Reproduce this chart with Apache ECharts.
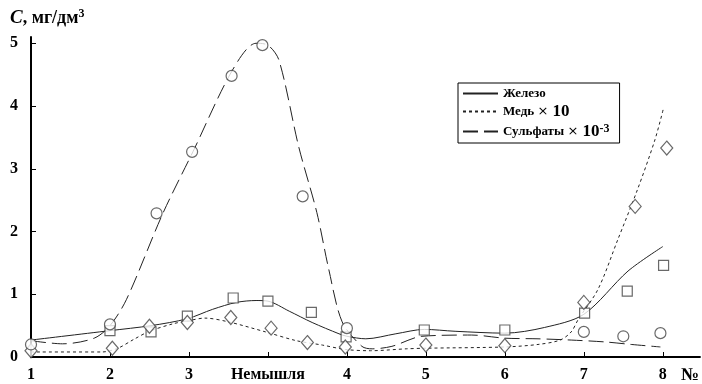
<!DOCTYPE html>
<html>
<head>
<meta charset="utf-8">
<script src="https://cdn.jsdelivr.net/npm/echarts@6/dist/echarts.min.js"></script>
<style>
  html, body { margin: 0; padding: 0; background: #fff; }
  #chart { width: 702px; height: 384px; }
</style>
</head>
<body>
<div id="chart"></div>
<script>
// точки по оси X: позиции 0..8
const xLabels = ['1', '2', '3', 'Немышля', '4', '5', '6', '7', '8'];
const yTicks = [0, 1, 2, 3, 4, 5];

// Железо — измеренные точки и сглаженная кривая
const ironPoints = [[1, 0.42], [1.52, 0.4], [1.98, 0.65], [2.56, 0.94], [3.0, 0.89], [3.55, 0.71],
  [3.99, 0.32], [4.98, 0.43], [6.0, 0.43], [7.01, 0.7], [7.55, 1.05], [8.01, 1.46]];
const ironCurve = [[0, 0.27], [1, 0.42], [1.52, 0.5], [1.98, 0.61], [2.3, 0.76], [2.6, 0.87],
  [2.85, 0.9], [3.0, 0.89], [3.27, 0.73], [3.56, 0.55], [3.9, 0.37], [4.0, 0.33], [4.24, 0.29],
  [4.62, 0.37], [4.98, 0.44], [5.37, 0.41], [6.0, 0.38], [6.5, 0.47], [7.0, 0.68], [7.56, 1.37], [8.0, 1.76]];

// Медь x10
const copperPoints = [[0, 0.1], [1.03, 0.14], [1.5, 0.49], [1.98, 0.55], [2.53, 0.63], [3.04, 0.46],
  [3.5, 0.23], [3.98, 0.16], [5.0, 0.19], [6.0, 0.18], [7.0, 0.87], [7.65, 2.4], [8.05, 3.33]];
const copperCurve = [[0, 0.08], [0.9, 0.08], [1.1, 0.14], [1.3, 0.28], [1.5, 0.41], [1.8, 0.53],
  [2.0, 0.58], [2.2, 0.62], [2.5, 0.56], [2.97, 0.4], [3.36, 0.26], [3.69, 0.19], [3.98, 0.12],
  [4.3, 0.1], [4.75, 0.13], [5.0, 0.14], [6.0, 0.16], [6.42, 0.2], [6.7, 0.27], [6.84, 0.4],
  [6.93, 0.6], [7.18, 1.08], [7.43, 1.87], [7.68, 2.67], [7.9, 3.46], [8.01, 3.97]];

// Сульфаты x10^-3
const sulfatePoints = [[0, 0.2], [1, 0.52], [1.59, 2.29], [2.04, 3.27], [2.54, 4.48], [2.93, 4.97],
  [3.44, 2.56], [4.0, 0.46], [7.0, 0.4], [7.5, 0.33], [7.97, 0.38]];
const sulfateCurve = [[0, 0.26], [0.4, 0.21], [0.8, 0.3], [1.0, 0.5], [1.21, 0.92], [1.67, 2.29],
  [2.05, 3.27], [2.55, 4.57], [2.85, 5.0], [3.0, 4.97], [3.14, 4.73], [3.39, 3.35], [3.62, 2.3],
  [3.77, 1.4], [3.94, 0.56], [4.19, 0.17], [4.32, 0.13], [4.57, 0.17], [4.95, 0.33], [5.58, 0.35],
  [6.0, 0.3], [6.42, 0.29], [6.84, 0.27], [7.27, 0.24], [7.6, 0.2], [7.97, 0.16]];

let myChart = echarts.init(document.getElementById('chart'));

const serif = 'Liberation Serif';
const markerStyle = { color: '#fff', borderColor: '#444', borderWidth: 1.2 };

let option = {
  animation: false,
  title: {
    left: 5,
    top: 3,
    text: '{i|C}{b|, мг/дм}{s|3}',
    textStyle: {
      rich: {
        i: { fontFamily: serif, fontSize: 19, fontWeight: 'bold', fontStyle: 'italic', color: '#000' },
        b: { fontFamily: serif, fontSize: 18, fontWeight: 'bold', color: '#000' },
        s: { fontFamily: serif, fontSize: 12, fontWeight: 'bold', color: '#000', verticalAlign: 'top', padding: [0, 0, 8, 0] }
      }
    }
  },
  legend: {
    orient: 'vertical',
    left: 458,
    top: 83,
    padding: [4, 10, 3, 4],
    itemGap: 3,
    itemWidth: 35,
    itemHeight: 12,
    borderColor: '#000',
    borderWidth: 1,
    borderRadius: 0,
    data: ['Железо', 'Медь', 'Сульфаты'],
    itemStyle: { color: 'transparent', borderWidth: 0, opacity: 0 },
    formatter: function (name) {
      if (name === 'Медь') return '{t|Медь} {x|×}{n| 10}';
      if (name === 'Сульфаты') return '{t|Сульфаты} {x|×}{n| 10}{s|-3}';
      return '{t|' + name + '}';
    },
    textStyle: {
      rich: {
        t: { fontFamily: serif, fontSize: 13, fontWeight: 'bold', color: '#000' },
        x: { fontFamily: 'DejaVu Sans', fontSize: 13, color: '#000' },
        n: { fontFamily: serif, fontSize: 17, fontWeight: 'bold', color: '#000' },
        s: { fontFamily: serif, fontSize: 12, fontWeight: 'bold', color: '#000', verticalAlign: 'top' }
      }
    }
  },
  grid: { left: 31, right: 0, top: 37, bottom: 26 },
  xAxis: {
    type: 'value',
    min: 0,
    max: 8.47,
    splitLine: { show: false },
    axisLine: { lineStyle: { color: '#000', width: 2 } },
    axisTick: { inside: true, length: 5, customValues: [0, 1, 2, 3, 4, 5, 6, 7, 8], lineStyle: { color: '#000' } },
    axisLabel: {
      customValues: [0, 1, 2, 3, 4, 5, 6, 7, 8],
      formatter: v => xLabels[Math.round(v)],
      margin: 10,
      fontFamily: serif,
      fontSize: 16,
      fontWeight: 'bold',
      color: '#000'
    },
    name: '№',
    nameLocation: 'end',
    nameGap: -19,
    nameTextStyle: { fontFamily: serif, fontSize: 18, fontWeight: 'bold', color: '#000', verticalAlign: 'top', padding: [9, 0, 0, 0] }
  },
  yAxis: {
    type: 'value',
    min: 0,
    max: 5.1,
    splitLine: { show: false },
    axisLine: { lineStyle: { color: '#000', width: 2 } },
    axisTick: { inside: true, length: 5, customValues: yTicks, lineStyle: { color: '#000' } },
    axisLabel: {
      customValues: yTicks,
      margin: 13,
      fontFamily: serif,
      fontSize: 16,
      fontWeight: 'bold',
      color: '#000'
    }
  },
  series: [
    {
      name: 'Железо', type: 'line', smooth: 0.3, symbol: 'none', data: ironCurve,
      lineStyle: { color: '#222', width: 1, type: 'solid' }, z: 3
    },
    {
      name: 'Медь', type: 'line', smooth: 0.3, symbol: 'none', data: copperCurve,
      lineStyle: { color: '#222', width: 1, type: [3, 3] }, z: 3
    },
    {
      name: 'Сульфаты', type: 'line', smooth: 0.3, symbol: 'none', data: sulfateCurve,
      lineStyle: { color: '#222', width: 1, type: [15, 6] }, z: 3
    },
    {
      name: 'Железо (точки)', type: 'scatter', symbol: 'rect', symbolSize: 10,
      data: ironPoints, itemStyle: markerStyle, z: 4
    },
    {
      name: 'Медь (точки)', type: 'scatter', symbol: 'diamond', symbolSize: [12, 14],
      data: copperPoints, itemStyle: markerStyle, z: 4
    },
    {
      name: 'Сульфаты (точки)', type: 'scatter', symbol: 'circle', symbolSize: 11,
      data: sulfatePoints, itemStyle: markerStyle, z: 4
    }
  ]
};

myChart.setOption(option);
window.addEventListener('resize', function () {
  myChart.resize();
}, false);
</script>
</body>
</html>
